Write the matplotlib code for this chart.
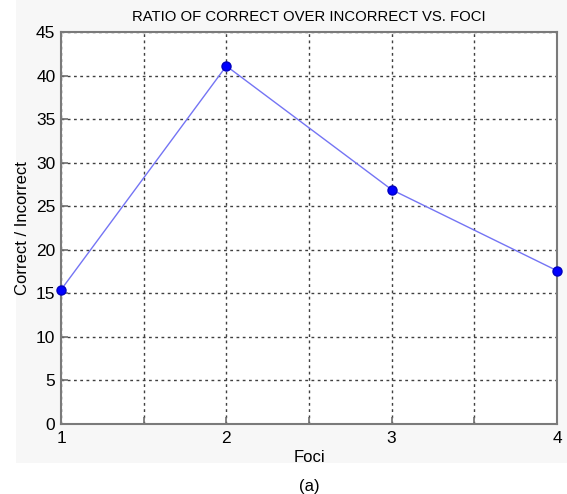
import matplotlib.pyplot as plt
from matplotlib.patches import Rectangle

foci = [1, 2, 3, 4]
ratio = [15.4, 41.1, 26.9, 17.6]

x_ticks = [1, 1.5, 2, 2.5, 3, 3.5, 4]
x_labels = ['1', '', '2', '', '3', '', '4']
y_ticks = list(range(0, 50, 5))

plt.rcParams['font.family'] = ['Liberation Sans']

fig = plt.figure(figsize=(5.67, 4.94), dpi=100)
fig.patch.set_facecolor('white')
# light grey canvas behind the axes, like the MATLAB figure window
fig.patches.append(Rectangle((16 / 567, 1 - 463 / 494), 551 / 567, 463 / 494,
                             transform=fig.transFigure, facecolor='#f7f7f7',
                             edgecolor='none', zorder=-10))

ax = fig.add_axes([61 / 567, 1 - 424 / 494, 496 / 567, 392 / 494])
ax.set_zorder(1)
ax.set_facecolor('white')

ax.plot(foci, ratio, color='#7474f4', linewidth=1.0, zorder=3)
ax.plot(foci, ratio, linestyle='none', marker='o', markersize=6.5,
        color='#0000ff', markeredgecolor='#0000c0', zorder=4, clip_on=False)

ax.set_xlim(1, 4)
ax.set_ylim(0, 45)
ax.set_xticks(x_ticks)
ax.set_xticklabels(x_labels)
ax.set_yticks(y_ticks)

ax.grid(True, linestyle=(0, (2, 2.5)), color='#404040', linewidth=1.0)
ax.tick_params(direction='in', length=5, width=1.2, color='#707070',
               labelsize=12.5, labelcolor='black')
ax.tick_params(axis='x', pad=5)
ax.tick_params(axis='y', pad=4)
for s in ax.spines.values():
    s.set_color('#7a7a7a')
    s.set_linewidth(1.5)

ax.set_title('RATIO OF CORRECT OVER INCORRECT VS. FOCI', fontsize=10.7, pad=8)
ax.set_xlabel('Foci', fontsize=12, labelpad=3)
ax.set_ylabel('Correct / Incorrect', fontsize=12, labelpad=4)
fig.text(309 / 567, 1 - 486 / 494, '(a)', ha='center', va='center', fontsize=12)

fig.savefig('out.png', dpi=100)
